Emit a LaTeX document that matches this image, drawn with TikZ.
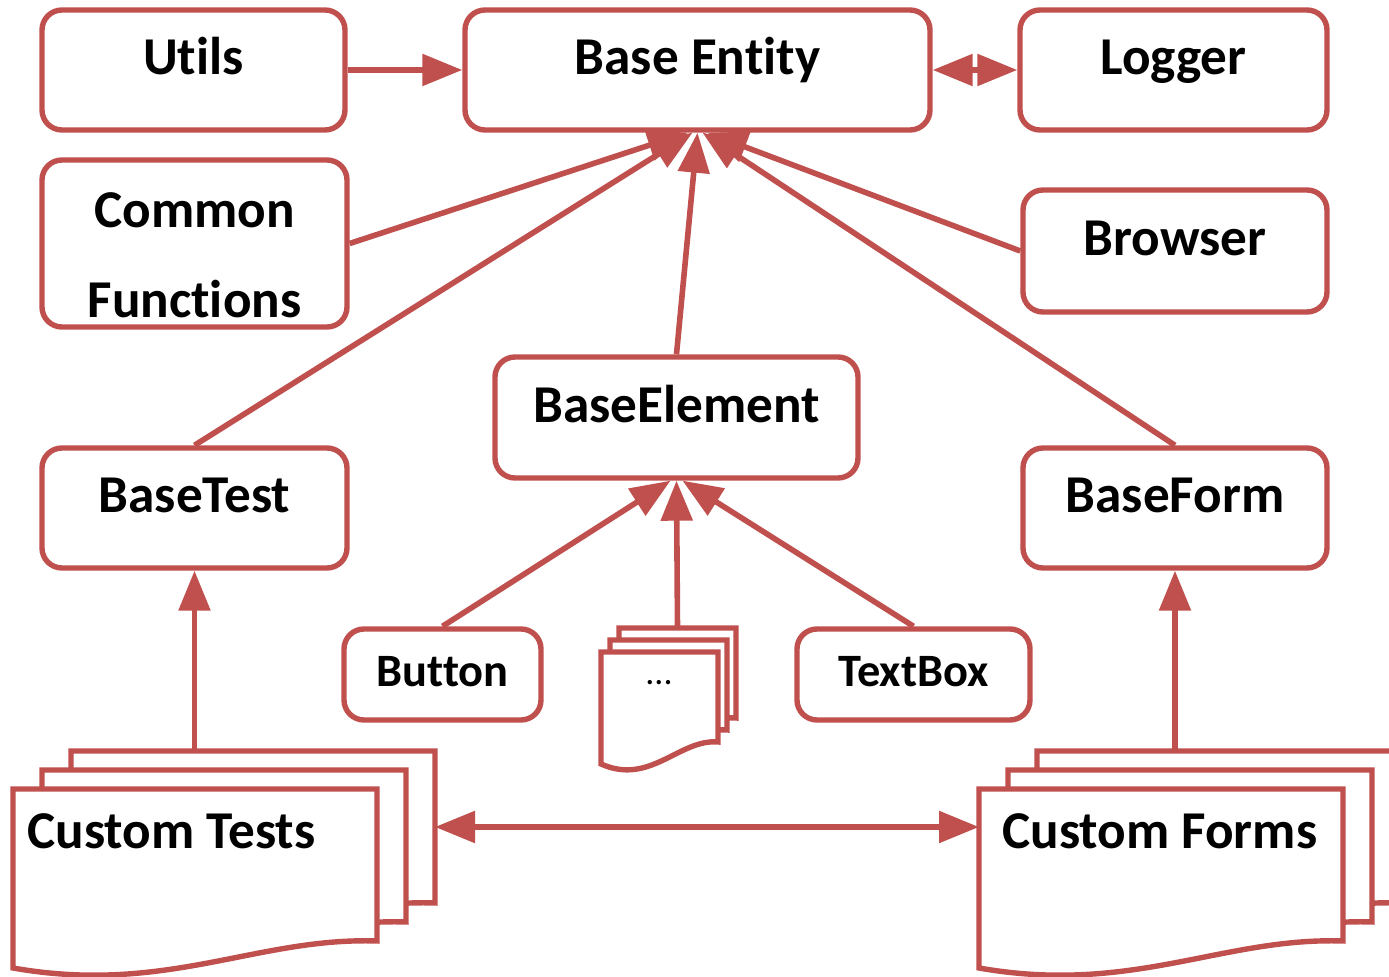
\documentclass[tikz,border=0pt]{standalone}
\usepackage{fontspec}
\setmainfont{Carlito}[Ligatures={NoCommon,NoRare,NoContextual}, RawFeature={-liga;-clig;-calt;-dlig}]
\usepackage{tikz}
\usetikzlibrary{arrows.meta, calc}
\definecolor{boxred}{RGB}{192,80,77}

% one sheet of a document stack: x, y, width, height, wave depth
\newcommand{\docpage}[5]{%
  \draw[page] (#1,#2) -- ({#1+#3},#2) -- ({#1+#3},{#2+#4})
    .. controls ({#1+0.67*#3},{#2+#4-0.15*#5}) and ({#1+0.42*#3},{#2+#4+2*#5}) .. (#1,{#2+#4+#5}) -- cycle;}

\tikzset{
  box/.style={draw=boxred, line width=2.7pt, rounded corners=10pt, fill=white, inner sep=0pt,
    text height=18pt, text depth=13pt, font=\bfseries\fontsize{26.6}{31}\selectfont},
  smallbox/.style={box, text height=16pt, text depth=4pt, font=\bfseries\fontsize{23.2}{27}\selectfont},
  boxtext/.style={inner sep=0pt, font=\bfseries\fontsize{26.6}{31}\selectfont},
  page/.style={draw=boxred, line width=2.7pt, fill=white, line join=miter},
  frame/.style={inner sep=0pt, outer sep=0pt},
  link/.style={draw=boxred, line width=2.8pt, -{Triangle[length=20pt,width=15.5pt]}},
  twolink/.style={draw=boxred, line width=2.8pt, {Triangle[length=20pt,width=15.5pt]}-{Triangle[length=20pt,width=15.5pt]}}
}

\begin{document}
\begin{tikzpicture}[x=0.5pt, y=-0.5pt]
  \useasboundingbox (0,0) rectangle (1389,977);

  % top row
  \node[box, minimum width=151.5pt, minimum height=60pt] (utils) at (193.5,70) {Utils};
  \node[box, minimum width=232.5pt, minimum height=60pt] (entity) at (697.5,70) {Base Ent\kern0pt ity};
  \node[box, minimum width=153.5pt, minimum height=60pt] (logger) at (1173.5,70) {Logger};

  % helpers
  \node[box, minimum width=152.5pt, minimum height=83.5pt] (common) at (194.5,243.5) {};
  \node[boxtext, anchor=base] (common1) at (194.5,228) {Common};
  \node[boxtext, anchor=base] (common2) at (194.5,318) {Funct\kern0pt ions};
  \node[box, minimum width=152pt, minimum height=61pt] (browser) at (1175,251) {Browser};

  % base classes
  \node[box, minimum width=181.5pt, minimum height=60.5pt] (element) at (676.5,417.5) {BaseElement};
  \node[box, minimum width=152.5pt, minimum height=60pt] (basetest) at (194.5,508) {BaseTest};
  \node[box, minimum width=152pt, minimum height=60pt] (baseform) at (1175,508) {BaseForm};

  % elements
  \node[smallbox, minimum width=98.5pt, minimum height=45.5pt] (button) at (442.5,674.5) {Button};
  \node[smallbox, minimum width=116.5pt, minimum height=45.5pt] (textbox) at (913.5,674.5) {TextBox};

  \foreach \i in {2,1,0} {
    \docpage{601+9*\i}{652-12*\i}{117}{90}{22}
  }
  \node[frame, minimum width=58.5pt, minimum height=45pt] (dots) at (677.5,673) {};
  \node[inner sep=0pt, font=\fontsize{18}{21}\selectfont] (dotstext) at (659,683) {...};

  % custom stacks
  \foreach \i in {2,1,0} {
    \docpage{13+29*\i}{789-19*\i}{364}{152}{27}
    \docpage{979+29*\i}{789-19*\i}{364}{152}{27}
  }
  \node[frame, minimum width=182pt, minimum height=76pt] (tests) at (253,827) {};
  \node[frame, minimum width=182pt, minimum height=76pt] (forms) at (1219,827) {};
  \node[frame, minimum width=182pt, minimum height=76pt] (formsfront) at (1161,865) {};
  \node[boxtext, anchor=base west] (teststext) at (27,849) {Custom Tests};
  \node[boxtext, anchor=base west] (formstext) at (1002,849) {Custom Forms};

  % links
  \draw[link] (utils) -- (entity);
  \draw[twolink] (entity) -- (logger);
  \foreach \src/\off in {common.east/-10, basetest.north/-5, element.north/0, baseform.north/5, browser.west/10} {
    \draw[link] (\src) -- ($(entity.south)+(\off,0)$);
  }
  \foreach \src/\off in {button.north/-6, dots.north/0, textbox.north/6} {
    \draw[link] (\src) -- ($(element.south)+(\off,0)$);
  }
  \draw[link] (basetest |- tests.north) -- (basetest.south);
  \draw[link] (baseform |- forms.north) -- (baseform.south);
  \draw[twolink] (tests.east) -- (formsfront.west |- tests.east);
\end{tikzpicture}
\end{document}
